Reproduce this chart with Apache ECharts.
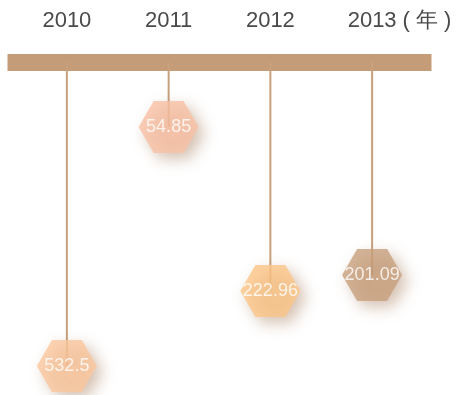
<!DOCTYPE html>
<html><head><meta charset="utf-8">
<script src="https://cdn.jsdelivr.net/npm/echarts@6/dist/echarts.min.js"></script>
<style>html,body{margin:0;padding:0;background:#fff}#c{width:456px;height:395px}</style>
</head><body><div id="c"></div>
<script>
var years = ['2010', '2011', '2012', '2013'];
var values = [532.5, 54.85, 222.96, 201.09];
// drop depth of each marker below the timeline (as drawn in the picture, 0-100 scale)
var depths = [95, 20.3, 71.6, 66.6];
var colors = ['#FBC79E', '#F9C0A5', '#FDC587', '#C8A07D'];

var chart = echarts.init(document.getElementById('c'));
chart.setOption({
  animation: false,
  grid: { left: 16, right: 33, top: 62, bottom: 13 },
  xAxis: {
    type: 'category', position: 'top', data: years,
    name: '( 年 )', nameLocation: 'end', nameGap: -25,
    nameTextStyle: { color: '#4a4a4a', fontSize: 22, fontFamily: 'Liberation Sans', verticalAlign: 'bottom', padding: [0, 0, 30, 0] },
    axisLine: { lineStyle: { color: '#C49C78', width: 17, cap: 'square' } },
    axisTick: { show: false },
    axisLabel: { color: '#4a4a4a', fontSize: 22, fontFamily: 'Liberation Sans', margin: 30 },
    splitLine: { show: false }
  },
  yAxis: { type: 'value', inverse: true, min: 0, max: 100, show: false, splitLine: { show: false } },
  series: [
    {
      type: 'bar', barWidth: 2, data: depths, z: 1,
      itemStyle: { color: '#C8A07D' }
    },
    {
      type: 'scatter', z: 3,
      symbol: 'path://M0,43.3 L25,0 L75,0 L100,43.3 L75,86.6 L25,86.6 Z',
      symbolSize: [60, 52],
      data: depths.map(function (d, i) {
        return { value: [years[i], d], itemStyle: { color: colors[i] } };
      }),
      itemStyle: { shadowBlur: 15, shadowOffsetX: 6, shadowOffsetY: 6, shadowColor: 'rgba(150,100,60,0.5)' },
      label: {
        show: true, position: 'inside', color: '#fff', fontSize: 18, fontFamily: 'Liberation Sans',
        formatter: function (p) { return values[p.dataIndex]; }
      }
    }
  ]
});
</script></body></html>
